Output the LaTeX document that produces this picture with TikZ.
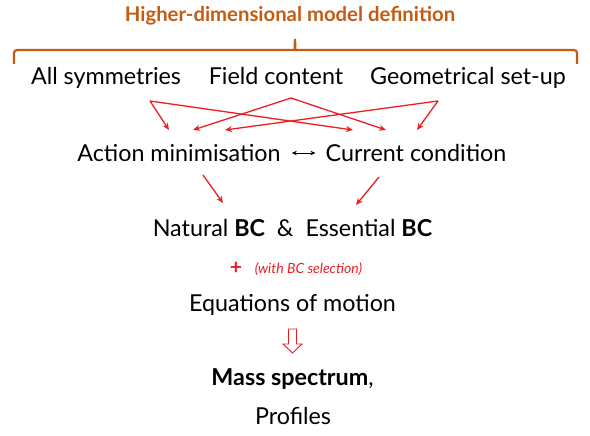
\documentclass[tikz,border=0pt]{standalone}
\usepackage{fontspec}
\setmainfont{Lato}
\usetikzlibrary{arrows.meta}
\definecolor{MyOrange}{RGB}{197,90,17}
\definecolor{MyRed}{RGB}{235,30,35}
\newcommand{\bc}{\textbf{BC}}

\begin{document}
\begin{tikzpicture}[x=1pt, y=-1pt,
    every node/.style={inner sep=0pt, anchor=base, font=\fontsize{23.3}{27}\selectfont},
    link/.style={MyRed, line width=1.3pt, -{Stealth[length=7pt,width=6pt]}}]
    \useasboundingbox (0,0) rectangle (590,436);
    % title and brace
    \node[font=\fontsize{20.3}{24}\selectfont\bfseries, text=MyOrange] (title) at (290,22) {Higher-dimensional model definition};
    \draw[MyOrange, line width=2.2pt, rounded corners=3pt] (14,64) |- (291,50) to[out=0,in=-90] (295,37) to[out=-90,in=180] (299,50) -| (577,64);
    % ingredients
    \node (sym) at (106,85) {All symmetries};
    \node (field) at (276,85) {Field content};
    \node (geom) at (468,85) {Geometrical set-up};
    \node (act) at (179,161) {Action minimisation};
    \node (cur) at (416,161) {Current condition};
    \draw[{Stealth[length=5pt,width=4.5pt]}-{Stealth[length=5pt,width=4.5pt]}, line width=0.9pt] ([shift={(11,-8)}]act.base east) -- ([shift={(-10,-8)}]cur.base west);
    % crossing arrows
    \coordinate (symtip) at (150,101);
    \coordinate (fieldtip) at (291,98);
    \coordinate (geomtip) at (438,101);
    \coordinate (a1) at (169,130);
    \coordinate (a2) at (193,130);
    \coordinate (a3) at (225,130);
    \coordinate (c1) at (353,130);
    \coordinate (c2) at (386,130);
    \coordinate (c3) at (417,130);
    \draw[link] (symtip) -- (a1);
    \draw[link] (symtip) -- (c1);
    \draw[link] (fieldtip) -- (a2);
    \draw[link] (fieldtip) -- (c2);
    \draw[link] (geomtip) -- (a3);
    \draw[link] (geomtip) -- (c3);
    % boundary conditions
    \node (bcs) at (292.5,236) {Natural \bc\ \ \&\ \ Essential \bc};
    \coordinate (acttail) at (203,175);
    \coordinate (acthead) at (223,203);
    \coordinate (curtail) at (379,177);
    \coordinate (curhead) at (356,205);
    \draw[link] (acttail) -- (acthead);
    \draw[link] (curtail) -- (curhead);
    \node[font=\fontsize{21}{24}\selectfont\bfseries, text=MyRed] (plus) at (236,274) {+};
    \node[font=\fontsize{14}{17}\selectfont\itshape, text=MyRed] (sel) at (308.5,273) {(with BC selection)};
    \node (eom) at (292.5,311) {Equations of motion};
    % hollow arrow
    \draw[MyRed, fill=white, line width=0.9pt, line join=miter] (288.5,329) -- (296.5,329) -- (296.5,344) -- (302,344) -- (292.5,353) -- (283,344) -- (288.5,344) -- cycle;
    \node (mass) at (292.5,385) {\textbf{Mass spectrum},};
    \node (prof) at (293,424) {Profiles};
\end{tikzpicture}
\end{document}
